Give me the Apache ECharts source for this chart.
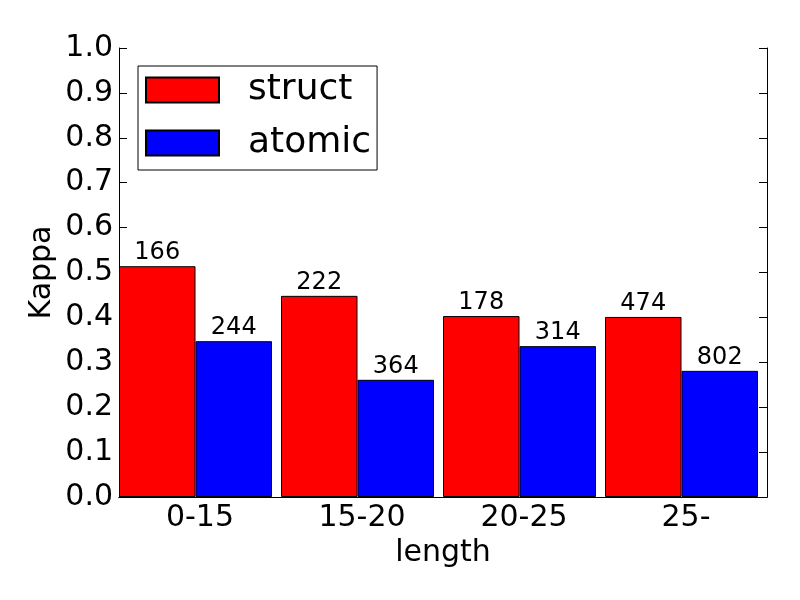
<!DOCTYPE html>
<html>
<head>
<meta charset="utf-8">
<script src="https://cdn.jsdelivr.net/npm/echarts@6/dist/echarts.min.js"></script>
<style>
  html, body { margin: 0; padding: 0; background: #fff; }
  #chart { width: 800px; height: 600px; }
</style>
</head>
<body>
<div id="chart"></div>
<script>
// data
var categories = ['0-15', '15-20', '20-25', '25-'];
var structKappa = [0.514, 0.448, 0.403, 0.401];
var atomicKappa = [0.347, 0.261, 0.336, 0.281];
var structCount = [166, 222, 178, 474];
var atomicCount = [244, 364, 314, 802];
var yTicks = { min: 0, max: 1, interval: 0.1 };

var font = 'DejaVu Sans';

function countLabel(counts) {
  return {
    show: true,
    position: 'top',
    distance: 1,
    color: '#000',
    fontFamily: font,
    fontSize: 24,
    formatter: function (p) { return String(counts[p.dataIndex]); }
  };
}

var chart = echarts.init(document.getElementById('chart'));
chart.setOption({
  animation: false,
  backgroundColor: '#fff',
  grid: { left: 119, top: 48, right: 33, bottom: 103 },
  legend: {
    data: ['struct', 'atomic'],
    orient: 'vertical',
    left: 138,
    top: 66,
    padding: [6, 6, 9, 7],
    itemGap: 17,
    itemWidth: 73,
    itemHeight: 25,
    icon: 'rect',
    borderColor: '#000',
    borderWidth: 1,
    borderRadius: 0,
    backgroundColor: '#fff',
    textStyle: { fontFamily: font, fontSize: 36, color: '#000', padding: [0, 0, 0, 24] }
  },
  xAxis: [{
    type: 'category',
    data: categories,
    name: 'length',
    nameLocation: 'middle',
    nameGap: 40,
    nameTextStyle: { fontFamily: font, fontSize: 30, color: '#000' },
    axisLine: { lineStyle: { color: '#000', width: 1 } },
    axisTick: { inside: true, alignWithLabel: true, length: 8, lineStyle: { color: '#000' } },
    axisLabel: { fontFamily: font, fontSize: 30, color: '#000', margin: 6 },
    splitLine: { show: false }
  }, {
    type: 'category',
    data: categories,
    position: 'top',
    axisLine: { lineStyle: { color: '#000', width: 1 } },
    axisTick: { inside: true, alignWithLabel: true, length: 8, lineStyle: { color: '#000' } },
    axisLabel: { show: false },
    splitLine: { show: false }
  }],
  yAxis: [{
    type: 'value',
    min: yTicks.min,
    max: yTicks.max,
    interval: yTicks.interval,
    name: 'Kappa',
    nameLocation: 'middle',
    nameGap: 62,
    nameMoveOverlap: false,
    nameTextStyle: { fontFamily: font, fontSize: 30, color: '#000' },
    axisLine: { show: true, lineStyle: { color: '#000', width: 1 } },
    axisTick: { show: true, inside: true, length: 8, lineStyle: { color: '#000' } },
    axisLabel: { fontFamily: font, fontSize: 30, color: '#000', margin: 6,
      formatter: function (v) { return v.toFixed(1); } },
    splitLine: { show: false }
  }, {
    type: 'value',
    position: 'right',
    min: yTicks.min,
    max: yTicks.max,
    interval: yTicks.interval,
    axisLine: { show: true, lineStyle: { color: '#000', width: 1 } },
    axisTick: { show: true, inside: true, length: 8, lineStyle: { color: '#000' } },
    axisLabel: { show: false },
    splitLine: { show: false }
  }],
  series: [{
    name: 'struct',
    type: 'bar',
    data: structKappa,
    barWidth: 76.5,
    barGap: 0,
    itemStyle: { color: '#ff0000', borderColor: '#000', borderWidth: 1 },
    label: countLabel(structCount)
  }, {
    name: 'atomic',
    type: 'bar',
    data: atomicKappa,
    barWidth: 76.5,
    barGap: 0,
    itemStyle: { color: '#0000ff', borderColor: '#000', borderWidth: 1 },
    label: countLabel(atomicCount)
  }, {
    // empty spacer so each group starts at the left of its band
    name: 'spacer',
    type: 'bar',
    data: [],
    barWidth: 9,
    barGap: 0
  }]
});
</script>
</body>
</html>
